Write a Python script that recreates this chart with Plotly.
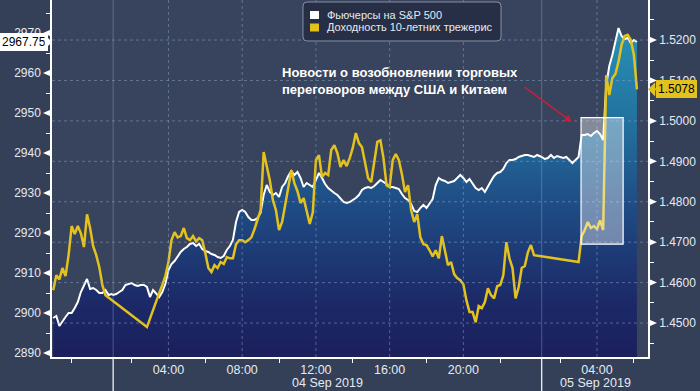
import pandas as pd
import plotly.graph_objects as go

# ---------------- data (10-minute bars, Moscow time; 00:15-01:00 pause removed) -------------
seg_a = pd.date_range("2019-09-03 21:00", "2019-09-04 00:10", freq="10min")
seg_b = pd.date_range("2019-09-04 01:00", "2019-09-05 00:10", freq="10min")
seg_c = pd.date_range("2019-09-05 01:00", "2019-09-05 06:10", freq="10min")
times = seg_a.append(seg_b).append(seg_c)

spx_a = [2898.75, 2899.25, 2896.75, 2898.0, 2899.0, 2900.0, 2900.0, 2901.25, 2902.75, 2905.25,
         2906.75, 2908.5, 2906.0, 2906.25, 2905.75, 2905.0, 2905.0, 2905.75, 2904.5, 2904.75]
spx_b = [2904.5, 2904.75, 2905.25, 2905.75, 2907.0, 2907.25, 2907.5, 2907.0, 2906.75, 2907.0,
         2907.0, 2906.5, 2904.0, 2905.75, 2904.75, 2904.0, 2905.25, 2907.25, 2910.75, 2912.25,
         2913.0, 2914.25, 2915.25, 2916.0, 2916.5, 2917.25, 2917.5, 2916.75, 2917.25, 2916.0,
         2915.5, 2915.25, 2914.75, 2914.5, 2914.0, 2913.75, 2914.25, 2915.75, 2916.75, 2918.25,
         2922.75, 2925.25, 2925.75, 2925.25, 2924.0, 2923.25, 2923.25, 2923.75, 2925.0, 2929.5,
         2932.0, 2930.25, 2929.5, 2930.0, 2929.0, 2931.5, 2932.5, 2934.25, 2935.5, 2934.5,
         2935.25, 2933.75, 2931.5, 2932.5, 2932.0, 2931.5, 2933.25, 2935.0, 2933.75, 2932.25,
         2931.25, 2930.5, 2930.0, 2929.5, 2928.75, 2927.75, 2927.5, 2927.75, 2928.25, 2928.75,
         2929.5, 2930.75, 2931.25, 2931.5, 2931.25, 2931.75, 2932.5, 2933.25, 2932.75, 2932.25,
         2931.5, 2931.5, 2931.25, 2931.0, 2929.75, 2928.75, 2928.25, 2927.25, 2925.5, 2925.25,
         2926.25, 2927.0, 2926.25, 2927.25, 2928.5, 2932.0, 2933.75, 2933.25, 2933.0, 2932.5,
         2932.75, 2933.0, 2933.75, 2934.5, 2933.75, 2932.75, 2933.5, 2932.25, 2931.25, 2930.75,
         2931.25, 2930.25, 2931.75, 2933.0, 2934.25, 2935.0, 2935.25, 2936.0, 2937.5, 2938.25,
         2938.25, 2938.5, 2939.0, 2939.25, 2939.5, 2939.5, 2939.25, 2939.0, 2939.5, 2939.25]
spx_c = [2939.0, 2938.5, 2938.75, 2939.5, 2938.75, 2939.25, 2939.0, 2938.75, 2939.0, 2938.25,
         2937.5, 2938.25, 2939.0, 2944.5, 2944.5, 2944.75, 2944.25, 2945.0, 2945.5, 2944.75,
         2943.25, 2957.0, 2961.75, 2964.5, 2968.25, 2971.25, 2969.25, 2968.5, 2968.75, 2967.5,
         2968.25, 2967.75]

ust_a = [1.4581, 1.4618, 1.4608, 1.4636, 1.4616, 1.4668, 1.4740, 1.4720, 1.4740, 1.4722,
         1.4688, 1.4769, 1.4735, 1.4690, 1.4668, 1.4638, 1.4594, 1.4569, None, None]
ust_b = [None] * 11 + [
         1.4490, 1.4512, 1.4532, 1.4556, 1.4574, 1.4594, 1.4616, 1.4651, 1.4705,
         1.4725, 1.4712, 1.4715, 1.4735, 1.4710, 1.4705, 1.4715, 1.4702, 1.4710, 1.4705,
         1.4673, 1.4636, 1.4626, 1.4643, 1.4636, 1.4651, 1.4646, 1.4663, 1.4660, 1.4660,
         1.4695, 1.4705, 1.4705, 1.4700, 1.4705, 1.4712, 1.4732, 1.4754, 1.4779, 1.4923,
         1.4891, 1.4853, 1.4804, 1.4779, 1.4730, 1.4750, 1.4792, 1.4841, 1.4878, 1.4846,
         1.4826, 1.4797, 1.4809, 1.4777, 1.4745, 1.4774, 1.4903, 1.4915, 1.4861, 1.4871,
         1.4866, 1.4928, 1.4940, 1.4920, 1.4886, 1.4903, 1.4888, 1.4908, 1.4933, 1.4970,
         1.4945, 1.4935, 1.4896, 1.4858, 1.4849, 1.4903, 1.4948, 1.4952, 1.4908, 1.4841,
         1.4836, 1.4903, 1.4918, 1.4903, 1.4868, 1.4824, 1.4841, 1.4779, 1.4750, 1.4769,
         1.4712, 1.4695, 1.4693, 1.4680, 1.4665, 1.4680, 1.4660, 1.4715, 1.4675, 1.4643,
         1.4651, 1.4621, 1.4611, 1.4606, 1.4596, 1.4556, 1.4527, 1.4527, 1.4502, 1.4542,
         1.4537, 1.4552, 1.4586, 1.4569, 1.4561, 1.4591, 1.4594, 1.4618, 1.4700, 1.4660,
         1.4636, 1.4561, 1.4589, 1.4636, 1.4641, 1.4675, 1.4693, 1.4668] + [None] * 2
ust_c = [None] * 12 + [
         1.4651, 1.4715, 1.4730, 1.4750, 1.4735, 1.4740, 1.4732, 1.4754, 1.4730, 1.5113,
         1.5064, 1.5106, 1.5116, 1.5146, 1.5188, 1.5210, 1.5213, 1.5200, 1.5163, 1.5078]

spx = spx_a + spx_b + spx_c
ust = ust_a + ust_b + ust_c

spx_name = "Фьючерсы на S&P 500"
ust_name = "Доходность 10-летних трежерис"
note_lines = ["Новости о возобновлении торговых", "переговоров между США и Китаем"]

major_ticks = ["2019-09-04 04:00", "2019-09-04 08:00", "2019-09-04 12:00", "2019-09-04 16:00",
               "2019-09-04 20:00", "2019-09-05 04:00"]
major_text = ["04:00", "08:00", "12:00", "16:00", "20:00", "04:00"]
minor_ticks = ["2019-09-03 22:00", "2019-09-04 02:00", "2019-09-04 06:00", "2019-09-04 10:00",
               "2019-09-04 14:00", "2019-09-04 18:00", "2019-09-04 22:00", "2019-09-05 02:00",
               "2019-09-05 06:00"]
day_starts = ["2019-09-04 01:00", "2019-09-05 01:00"]
day_labels = ["04 Sep 2019", "05 Sep 2019"]
day_label_pos = ["2019-09-04 12:37", "2019-09-05 03:54"]
spx_ticks = [2890, 2900, 2910, 2920, 2930, 2940, 2950, 2960, 2970]
ust_ticks = [1.45, 1.46, 1.47, 1.48, 1.49, 1.50, 1.51, 1.52]

# ---------------- styling ----------------
BG = "#343f58"
PLOT_BG = "#38435d"
YELLOW = "#e4c21d"
GRID = "rgba(140,165,200,0.5)"
TXT = "#e6eaf0"
FONT = "Liberation Sans, Arial, sans-serif"
SPX_RANGE = [2889, 2978.25]
UST_RANGE = [1.4416, 1.5299]

fig = go.Figure()
fig.add_trace(go.Scatter(
    x=times, y=spx, name=spx_name, mode="lines",
    line=dict(color="white", width=2), fill="tozeroy",
    fillgradient=dict(type="vertical", start=SPX_RANGE[0], stop=SPX_RANGE[1],
                      colorscale=[[0, "#1b1f5c"], [0.16, "#1c2a68"], [0.44, "#1f4e86"],
                                  [0.64, "#226f9e"], [0.92, "#2891b4"], [1, "#2a98b9"]]),
    yaxis="y", hoverinfo="skip"))
fig.add_trace(go.Scatter(
    x=times, y=ust, name=ust_name, mode="lines", connectgaps=True,
    line=dict(color=YELLOW, width=2.5), yaxis="y2", hoverinfo="skip"))

shapes = []
# gridlines drawn above the area fill
for v in ust_ticks:
    shapes.append(dict(type="line", xref="paper", x0=0, x1=1, yref="y2", y0=v, y1=v,
                       line=dict(color=GRID, width=1, dash="3px,3px"), layer="above"))
for t in major_ticks:
    shapes.append(dict(type="line", xref="x", x0=t, x1=t, yref="paper", y0=0, y1=1,
                       line=dict(color=GRID, width=1, dash="3px,3px"), layer="above"))
for t in day_starts:
    shapes.append(dict(type="line", xref="x", x0=t, x1=t, yref="paper", y0=0, y1=1,
                       line=dict(color="rgba(170,190,220,0.35)", width=1), layer="above"))
    shapes.append(dict(type="line", xref="x", x0=t, x1=t, yref="paper", y0=-0.1, y1=0,
                       line=dict(color="white", width=1.2), layer="above"))

# triangular major tick markers (Bloomberg style)
px_x = 1 / 596.0
spx_px = (SPX_RANGE[1] - SPX_RANGE[0]) / 357.0
ust_px = (UST_RANGE[1] - UST_RANGE[0]) / 357.0
for v in spx_ticks:
    shapes.append(dict(type="path", xref="paper", yref="y", layer="above",
                       path=f"M {-9 * px_x},{v} L {-1 * px_x},{v + 3.5 * spx_px} L {-1 * px_x},{v - 3.5 * spx_px} Z",
                       fillcolor="white", line=dict(width=0)))
for v in ust_ticks:
    shapes.append(dict(type="path", xref="paper", yref="y2", layer="above",
                       path=f"M {1 + 9 * px_x},{v} L {1 + 1 * px_x},{v + 3.5 * ust_px} L {1 + 1 * px_x},{v - 3.5 * ust_px} Z",
                       fillcolor="white", line=dict(width=0)))

# highlight box around the news reaction
shapes.append(dict(type="rect", xref="x", yref="y2", x0="2019-09-05 03:08", x1="2019-09-05 05:25",
                   y0=1.4695, y1=1.5008, fillcolor="rgba(255,255,255,0.38)",
                   line=dict(color="white", width=1.2), layer="above"))

# custom legend box (rounded corners)
lx0, lx1, ly0, ly1 = 0.4211, 0.7534, 0.8852, 0.9944
rx, ry = 4 * px_x, 4 / 357.0
legend_path = (f"M {lx0 + rx},{ly1} L {lx1 - rx},{ly1} Q {lx1},{ly1} {lx1},{ly1 - ry} "
               f"L {lx1},{ly0 + ry} Q {lx1},{ly0} {lx1 - rx},{ly0} L {lx0 + rx},{ly0} "
               f"Q {lx0},{ly0} {lx0},{ly0 + ry} L {lx0},{ly1 - ry} Q {lx0},{ly1} {lx0 + rx},{ly1} Z")
shapes.append(dict(type="path", xref="paper", yref="paper", path=legend_path,
                   fillcolor="#262f45", line=dict(color="#8891a3", width=1), layer="above"))
shapes.append(dict(type="rect", xref="paper", yref="paper", x0=0.4329, x1=0.4480, y0=0.9468, y1=0.9692,
                   fillcolor="white", line=dict(width=0), layer="above"))
shapes.append(dict(type="rect", xref="paper", yref="paper", x0=0.4329, x1=0.4480, y0=0.9118, y1=0.9342,
                   fillcolor=YELLOW, line=dict(width=0), layer="above"))

annotations = [
    dict(xref="paper", yref="paper", x=0.4581, y=0.958, xanchor="left", yanchor="middle",
         text=spx_name, showarrow=False, font=dict(size=11, color=TXT, family=FONT)),
    dict(xref="paper", yref="paper", x=0.4581, y=0.923, xanchor="left", yanchor="middle",
         text=ust_name, showarrow=False, font=dict(size=11, color=TXT, family=FONT)),
    dict(xref="paper", yref="paper", x=0.3826, y=0.7745, xanchor="left", yanchor="middle",
         align="left", text="<b>" + note_lines[0] + "<br>" + note_lines[1] + "</b>",
         showarrow=False, font=dict(size=13, color="white", family=FONT)),
    dict(xref="paper", yref="paper", x=0.8725, y=0.6583, text="", showarrow=True,
         ax=-49, ay=-36, arrowcolor="#c4203a", arrowwidth=1.5, arrowhead=2, arrowsize=1),
    # last-value flags
    dict(xref="paper", yref="y", x=0, y=spx[-1], text=f"{spx[-1]:.2f}", showarrow=True,
         ax=-28, ay=0, arrowhead=1, arrowsize=1.2, arrowwidth=2, arrowcolor="white", standoff=0,
         bgcolor="white", bordercolor="white", borderpad=1,
         font=dict(size=12, color="black", family=FONT)),
    dict(xref="paper", yref="y2", x=1, y=ust[-1], text=f"{ust[-1]:.4f}", showarrow=True,
         ax=28, ay=0, arrowhead=1, arrowsize=1.2, arrowwidth=2, arrowcolor=YELLOW, standoff=0,
         bgcolor=YELLOW, bordercolor=YELLOW, borderpad=1,
         font=dict(size=12, color="black", family=FONT)),
]
for pos, lab in zip(day_label_pos, day_labels):
    annotations.append(dict(xref="x", yref="paper", x=pos, y=-0.073, text=lab, showarrow=False,
                            xanchor="center", yanchor="middle",
                            font=dict(size=12.5, color=TXT, family=FONT)))

fig.update_layout(
    width=700, height=391,
    margin=dict(l=52, r=52, t=0, b=34),
    paper_bgcolor=BG, plot_bgcolor=PLOT_BG,
    showlegend=False,
    font=dict(family=FONT, color=TXT),
    shapes=shapes, annotations=annotations,
    xaxis=dict(
        type="date", range=["2019-09-03 20:56", "2019-09-05 06:46"],
        rangebreaks=[dict(bounds=[0.25, 1], pattern="hour")],
        tickmode="array", tickvals=major_ticks, ticktext=major_text,
        ticks="", showgrid=False, zeroline=False, automargin=False,
        showline=True, linecolor="white", linewidth=1.5,
        tickfont=dict(size=12.5, color=TXT, family=FONT),
        minor=dict(tickmode="array", tickvals=minor_ticks, ticks="outside", ticklen=4,
                   tickwidth=1, tickcolor="white", showgrid=False),
    ),
    yaxis=dict(
        range=SPX_RANGE, tickmode="array", tickvals=spx_ticks, automargin=False,
        ticks="outside", ticklen=7, tickwidth=1, tickcolor="rgba(0,0,0,0)",
        showline=True, linecolor="white", linewidth=1.5, showgrid=False, zeroline=False,
        tickfont=dict(size=12, color=TXT, family=FONT),
        minor=dict(dtick=5, ticks="outside", ticklen=4, tickwidth=1, tickcolor="white", showgrid=False),
    ),
    yaxis2=dict(
        range=UST_RANGE, overlaying="y", side="right", automargin=False,
        tickmode="array", tickvals=ust_ticks, tickformat=".4f",
        ticks="outside", ticklen=7, tickwidth=1, tickcolor="rgba(0,0,0,0)",
        showline=True, linecolor="white", linewidth=1.5, showgrid=False, zeroline=False,
        tickfont=dict(size=12, color=TXT, family=FONT),
        minor=dict(dtick=0.005, tick0=1.445, ticks="outside", ticklen=4, tickwidth=1,
                   tickcolor="white", showgrid=False),
    ),
)

# remove the browser's default 8px body margin so the figure sits at the page origin
fig.write_html("out.html", config={"displayModeBar": False},
               post_script="document.body.style.margin='0';")
